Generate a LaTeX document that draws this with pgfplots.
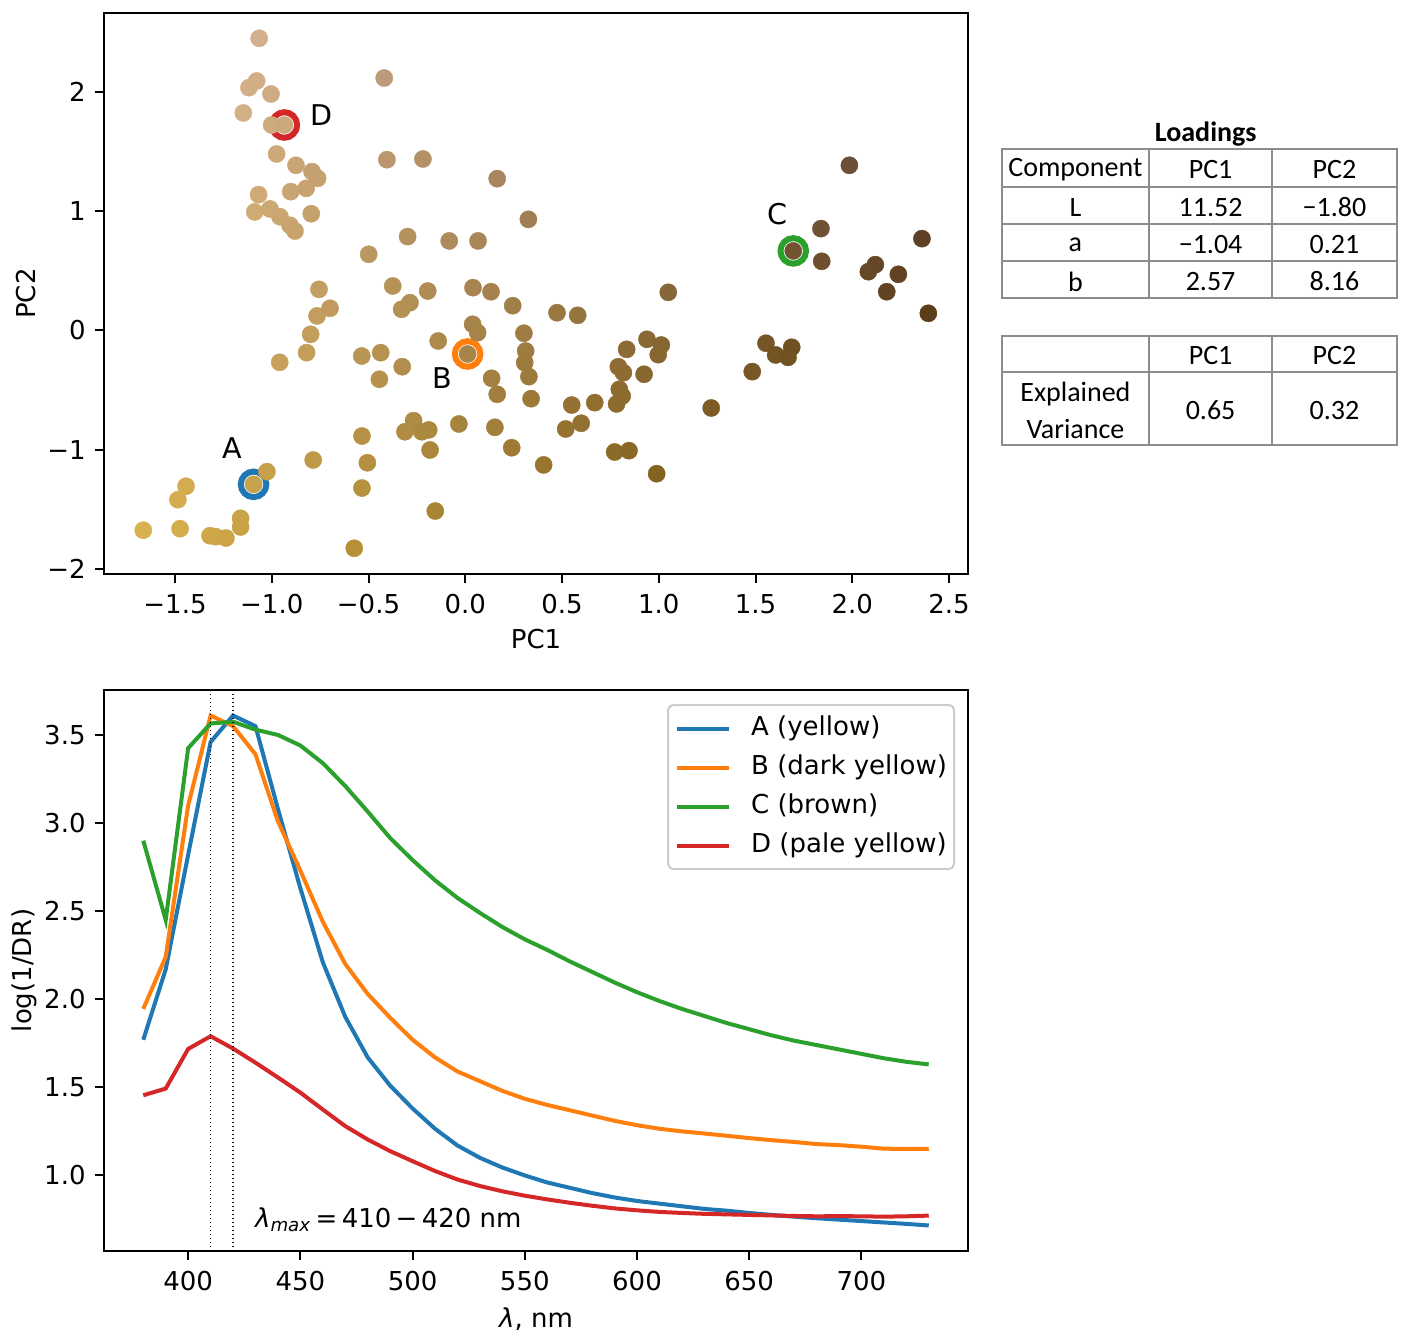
\documentclass[border=0pt]{standalone}
\usepackage{fontspec}
\setmainfont{DejaVu Sans}
\newfontfamily\calib{Carlito}
\usepackage{pgfplots}
\usepackage{pgfplotstable}
\pgfplotsset{compat=1.18}
\definecolor{tabblue}{HTML}{1F77B4}
\definecolor{taborange}{HTML}{FF7F0E}
\definecolor{tabgreen}{HTML}{2CA02C}
\definecolor{tabred}{HTML}{D62728}
\definecolor{tblline}{HTML}{8C8C8C}

\pgfplotstableread{
x y
-1.065 2.450
-0.419 2.117
-1.078 2.092
-1.118 2.036
-1.004 1.983
-1.147 1.824
-1.001 1.723
-0.935 1.723
-0.975 1.480
-0.405 1.432
-0.219 1.438
0.165 1.273
-0.875 1.385
-0.792 1.332
-0.763 1.276
-0.822 1.192
-0.902 1.164
-1.068 1.139
-1.088 0.994
-1.009 1.019
-0.958 0.954
-0.906 0.882
-0.880 0.834
-0.796 0.979
0.326 0.932
-0.298 0.787
-0.083 0.751
0.066 0.751
-0.499 0.639
-0.756 0.345
-0.375 0.373
-0.194 0.331
0.040 0.359
0.133 0.325
0.245 0.208
-0.699 0.186
-0.766 0.122
-0.799 -0.032
-0.820 -0.186
-0.959 -0.267
-0.286 0.233
-0.329 0.178
0.474 0.149
0.038 0.052
0.064 -0.018
-0.140 -0.088
0.012 -0.197
-0.535 -0.214
-0.437 -0.186
-0.326 -0.304
-0.444 -0.409
0.303 -0.023
0.312 -0.172
0.307 -0.270
0.329 -0.387
0.136 -0.401
0.165 -0.535
0.340 -0.572
-0.033 -0.784
-0.267 -0.756
-0.312 -0.849
-0.225 -0.849
-0.189 -0.834
-0.182 -1.002
0.153 -0.812
0.240 -0.983
0.405 -1.127
-0.534 -0.885
-0.506 -1.109
-0.534 -1.321
-0.155 -1.514
-0.574 -1.826
-0.786 -1.086
-1.025 -1.184
-1.094 -1.290
-1.443 -1.306
-1.485 -1.419
-1.664 -1.675
-1.474 -1.662
-1.319 -1.721
-1.290 -1.729
-1.237 -1.740
-1.161 -1.575
-1.161 -1.648
1.985 1.385
1.838 0.854
1.695 0.667
1.842 0.580
2.360 0.770
2.119 0.552
2.083 0.493
2.238 0.471
2.178 0.325
2.393 0.144
1.049 0.320
0.581 0.127
0.939 -0.074
1.013 -0.122
0.997 -0.203
0.834 -0.158
0.791 -0.304
0.817 -0.354
0.924 -0.367
0.796 -0.493
0.811 -0.549
0.782 -0.616
0.669 -0.605
0.550 -0.625
0.599 -0.778
0.519 -0.826
0.772 -1.019
0.846 -1.008
0.989 -1.201
1.271 -0.650
1.483 -0.345
1.554 -0.107
1.604 -0.205
1.668 -0.225
1.687 -0.141
}\scores

\pgfplotstableread{
lam A B C D
380 1.770 1.945 2.900 1.455
390 2.170 2.240 2.450 1.493
400 2.820 3.100 3.425 1.718
410 3.460 3.610 3.565 1.790
420 3.610 3.550 3.575 1.720
430 3.550 3.390 3.530 1.640
440 3.080 3.010 3.500 1.556
450 2.630 2.730 3.440 1.470
460 2.210 2.440 3.340 1.374
470 1.900 2.200 3.210 1.280
480 1.670 2.030 3.065 1.204
490 1.510 1.895 2.915 1.138
500 1.380 1.770 2.790 1.081
510 1.265 1.670 2.675 1.025
520 1.170 1.590 2.575 0.977
530 1.100 1.535 2.490 0.940
540 1.045 1.480 2.410 0.910
550 1.000 1.435 2.340 0.885
560 0.960 1.400 2.280 0.864
570 0.930 1.370 2.215 0.845
580 0.900 1.340 2.155 0.828
590 0.875 1.310 2.095 0.813
600 0.855 1.285 2.040 0.802
610 0.840 1.265 1.990 0.793
620 0.825 1.250 1.945 0.787
630 0.810 1.238 1.905 0.782
640 0.800 1.225 1.865 0.779
650 0.787 1.212 1.830 0.776
660 0.776 1.200 1.795 0.773
670 0.766 1.190 1.765 0.770
680 0.757 1.178 1.740 0.768
690 0.749 1.172 1.715 0.769
700 0.741 1.163 1.690 0.768
710 0.733 1.152 1.665 0.766
720 0.725 1.150 1.645 0.768
730 0.716 1.151 1.630 0.772
}\spectra

\pgfplotsset{
  mplstyle/.style={
    scale only axis, width=432pt, height=280.5pt,
    axis line style={line width=1pt},
    tick align=outside, tick pos=left,
    major tick length=4.5pt,
    every tick/.style={black, line width=1pt},
    tick label style={font=\fontsize{13}{15.6}\selectfont, inner sep=0pt},
    xticklabel shift=5.5pt, yticklabel shift=4.5pt,
    label style={font=\fontsize{13}{15.6}\selectfont},
    /pgf/number format/assume math mode=true,
  },
  ring/.style={only marks, mark=o, mark size=6.4pt, line width=3pt, #1,
    mark options={line width=3pt, draw=#1, fill=none}},
}

\begin{document}
\begin{tikzpicture}
\path[use as bounding box] (0,0) rectangle (703pt,-669.5pt);

% ---------- top: PCA scores ----------
\begin{axis}[mplstyle, at={(52pt,-6.5pt)}, anchor=north west,
  xmin=-1.867, xmax=2.598, ymin=-2.042, ymax=2.662,
  xtick={-1.5,-1,-0.5,0,0.5,1,1.5,2,2.5},
  xticklabels={−1.5,−1.0,−0.5,0.0,0.5,1.0,1.5,2.0,2.5},
  ytick={-2,-1,0,1,2},
  yticklabels={−2,−1,0,1,2},
  xlabel={PC1}, ylabel={PC2},
  xlabel style={at={([yshift=-37pt]axis description cs:0.5,0)}, anchor=base},
  ylabel style={at={([xshift=-34pt]axis description cs:0,0.5)}, anchor=base},
]
\addplot[ring=tabblue] coordinates {(-1.094,-1.290)};
\addplot[ring=taborange] coordinates {(0.012,-0.197)};
\addplot[ring=tabgreen] coordinates {(1.695,0.667)};
\addplot[ring=tabred] coordinates {(-0.935,1.723)};
\addplot[scatter, only marks, mark=*, mark size=4.3pt,
  visualization depends on={\thisrow{x}\as\px},
  visualization depends on={\thisrow{y}\as\py},
  scatter/@pre marker code/.code={%
    \pgfkeys{/pgf/fpu=true,/pgf/fpu/output format=fixed}%
    \pgfmathsetmacro\cR{max(0,min(1,(168.4-32.6*(\px)+3.1*(\py))/255))}%
    \pgfmathsetmacro\cG{max(0,min(1,(133.3-30.4*(\px)+3.8*(\py))/255))}%
    \pgfmathsetmacro\cB{max(0,min(1,(74.4-21.3*(\px)+18.0*(\py))/255))}%
    \pgfkeys{/pgf/fpu=false}%
    \definecolor{ptcol}{rgb}{\cR,\cG,\cB}%
    \scope[fill=ptcol,draw=ptcol,line width=0.2pt]},
  scatter/@post marker code/.code={\endscope},
] table[x=x,y=y] {\scores};
\node[font=\fontsize{14.3}{17}\selectfont] at (axis cs:-1.206,-0.985) {A};
\node[font=\fontsize{14.3}{17}\selectfont] at (axis cs:-0.120,-0.398) {B};
\node[font=\fontsize{14.3}{17}\selectfont] at (axis cs:1.615,0.977) {C};
\node[font=\fontsize{14.3}{17}\selectfont] at (axis cs:-0.741,1.807) {D};
\end{axis}

% ---------- bottom: spectra ----------
\begin{axis}[mplstyle, at={(52pt,-345pt)}, anchor=north west,
  xmin=362.5, xmax=747.5, ymin=0.571, ymax=3.755,
  xtick={400,450,500,550,600,650,700},
  xticklabels={400,450,500,550,600,650,700},
  ytick={1,1.5,2,2.5,3,3.5},
  yticklabels={1.0,1.5,2.0,2.5,3.0,3.5},
  xlabel={\textit{λ}, nm}, ylabel={log(1/DR)},
  xlabel style={at={([yshift=-38pt]axis description cs:0.5,0)}, anchor=base},
  ylabel style={at={([xshift=-36pt]axis description cs:0,0.5)}, anchor=base},
  legend style={at={(1,1)}, anchor=north east, xshift=-6.5pt, yshift=-7pt,
    draw=black!20, line width=1pt, rounded corners=2.5pt, fill=white,
    font=\fontsize{13}{15.6}\selectfont,
    inner xsep=3.5pt, inner ysep=5.5pt,
    nodes={inner sep=0pt, text height=9.5pt, text depth=3pt},
    row sep=7pt,
    /tikz/every odd column/.append style={column sep=10pt}},
  legend cell align=left,
  legend image code/.code={\draw[#1,line width=2pt] (0pt,0pt) -- (26pt,0pt);},
]
\addplot[tabblue, line width=2pt] table[x=lam,y=A] {\spectra};
\addlegendentry{A (yellow)}
\addplot[taborange, line width=2pt] table[x=lam,y=B] {\spectra};
\addlegendentry{B (dark yellow)}
\addplot[tabgreen, line width=2pt] table[x=lam,y=C] {\spectra};
\addlegendentry{C (brown)}
\addplot[tabred, line width=2pt] table[x=lam,y=D] {\spectra};
\addlegendentry{D (pale yellow)}
\addplot[forget plot, black, line width=0.6pt, dash pattern=on 0.7pt off 1.3pt] coordinates {(410,0.571) (410,3.755)};
\addplot[forget plot, black, line width=0.6pt, dash pattern=on 0.7pt off 1.3pt] coordinates {(420,0.571) (420,3.755)};
\node[font=\fontsize{13}{15.6}\selectfont] at (axis cs:489.2,0.75) {\textit{λ}\textsubscript{\textit{max}}\,=\,410\,−\,420 nm};
\end{axis}

% ---------- tables ----------
\begin{scope}[font=\calib\fontsize{14}{18.5}\selectfont]
\node[font=\calib\bfseries\fontsize{14}{17}\selectfont] at (602.85pt,-66.85pt) {Loadings};
\draw[tblline, line width=1pt] (500.85pt,-74.65pt) rectangle (698.35pt,-148.85pt);
\foreach \yy in {-93.35,-111.85,-130.5} \draw[tblline, line width=1pt] (500.85pt,\yy pt) -- (698.35pt,\yy pt);
\foreach \xx in {574.5,636.15} \draw[tblline, line width=1pt] (\xx pt,-74.65pt) -- (\xx pt,-148.85pt);
\node at (537.7pt,-85.0pt) {Component};
\node at (605.3pt,-85.0pt) {PC1};
\node at (667.25pt,-85.0pt) {PC2};
\node at (537.7pt,-103.6pt) {L};
\node at (605.3pt,-103.6pt) {11.52};
\node at (667.25pt,-103.6pt) {−1.80};
\node at (537.7pt,-122.2pt) {a};
\node at (605.3pt,-122.2pt) {−1.04};
\node at (667.25pt,-122.2pt) {0.21};
\node at (537.7pt,-140.7pt) {b};
\node at (605.3pt,-140.7pt) {2.57};
\node at (667.25pt,-140.7pt) {8.16};

\draw[tblline, line width=1pt] (500.85pt,-167.85pt) rectangle (698.35pt,-222.5pt);
\draw[tblline, line width=1pt] (500.85pt,-186.15pt) -- (698.35pt,-186.15pt);
\foreach \xx in {574.5,636.15} \draw[tblline, line width=1pt] (\xx pt,-167.85pt) -- (\xx pt,-222.5pt);
\node at (605.3pt,-178.0pt) {PC1};
\node at (667.25pt,-178.0pt) {PC2};
\node[align=center] at (537.7pt,-205.3pt) {Explained\\Variance};
\node at (605.3pt,-205.3pt) {0.65};
\node at (667.25pt,-205.3pt) {0.32};
\end{scope}
\end{tikzpicture}
\end{document}
